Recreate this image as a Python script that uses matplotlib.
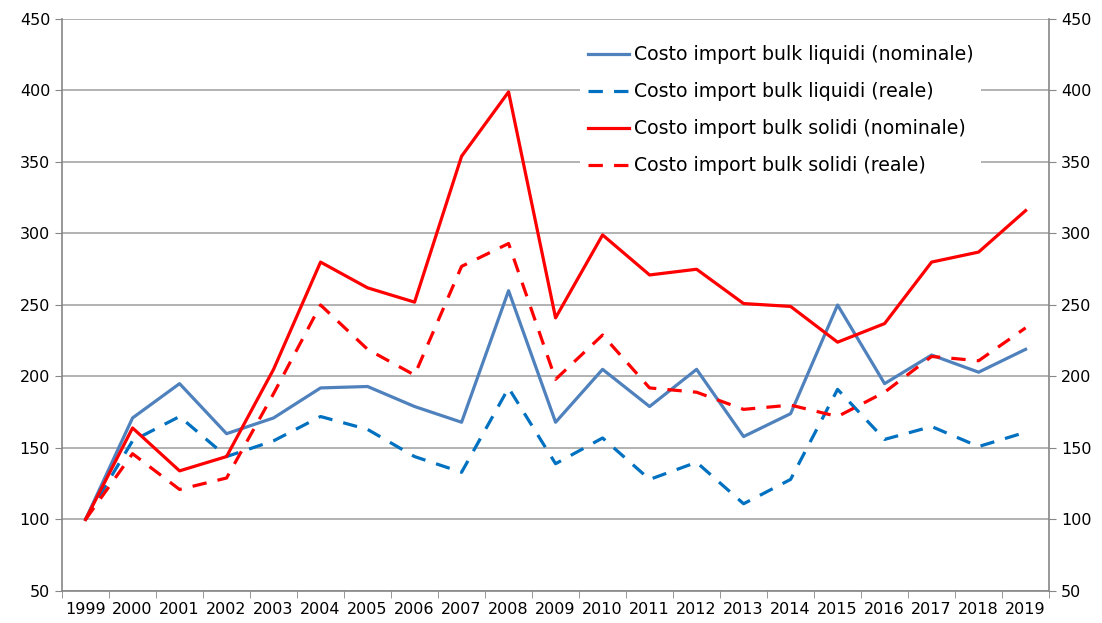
import numpy as np
import matplotlib
matplotlib.use("Agg")
from matplotlib import pyplot as plt

# Data
years = [str(y) for y in range(1999, 2020)]
liquidi_nom = [100, 171, 195, 160, 171, 192, 193, 179, 168, 260, 168,
               205, 179, 205, 158, 174, 250, 195, 215, 203, 219]
liquidi_real = [100, 155, 172, 144, 155, 172, 163, 144, 133, 192, 139,
                157, 128, 140, 111, 128, 191, 156, 165, 151, 161]
solidi_nom = [100, 164, 134, 144, 205, 280, 262, 252, 354, 399, 241,
              299, 271, 275, 251, 249, 224, 237, 280, 287, 316]
solidi_real = [100, 146, 121, 129, 188, 250, 219, 201, 277, 293, 198,
               229, 192, 189, 177, 180, 172, 189, 214, 211, 234]
labels = ['Costo import bulk liquidi (nominale)',
          'Costo import bulk liquidi (reale)',
          'Costo import bulk solidi (nominale)',
          'Costo import bulk solidi (reale)']

plt.rcParams['font.family'] = ['DejaVu Sans']
fig = plt.figure(figsize=(11.02, 6.23), dpi=100)
ax = fig.add_axes([0.0563, 0.0514, 0.8957, 0.9181])

x = np.arange(len(years))
dash = (0, (4.5, 3.5))
lw = 2.3
ax.plot(x, liquidi_nom, color='#4F81BD', lw=lw, label=labels[0])
ax.plot(x, liquidi_real, color='#0070C0', lw=lw, linestyle=dash, label=labels[1])
ax.plot(x, solidi_nom, color='#FF0000', lw=lw, label=labels[2])
ax.plot(x, solidi_real, color='#FF0000', lw=lw, linestyle=dash, label=labels[3])

ax.set_xlim(-0.5, len(years) - 0.5)
ax.set_ylim(50, 450)
ax.set_yticks(range(50, 451, 50))
ax.set_xticks(x)
ax.set_xticklabels(years)
ax.set_xticks(np.arange(-0.5, len(years), 1), minor=True)
ax.tick_params(axis='x', which='major', length=0, labelsize=11.5, pad=8)
ax.tick_params(axis='x', which='minor', length=5, color='#868686')
ax.tick_params(axis='y', length=5, color='#868686', labelsize=11.5)

ax.grid(axis='y', color='#A6A6A6', lw=1.2)
ax.set_axisbelow(True)
for s in ['left', 'bottom', 'right']:
    ax.spines[s].set_color('#868686')
    ax.spines[s].set_linewidth(1.2)
ax.spines['top'].set_visible(False)

ax2 = ax.twinx()
ax2.set_ylim(50, 450)
ax2.set_yticks(range(50, 451, 50))
ax2.tick_params(axis='y', length=5, color='#868686', labelsize=11.5)
for s in ['left', 'bottom', 'right', 'top']:
    ax2.spines[s].set_visible(False)

leg = ax.legend(loc='upper left', bbox_to_anchor=(0.525, 0.967), frameon=True,
                fontsize=13.6, handlelength=2.2, handletextpad=0.25,
                labelspacing=0.95, borderpad=0.4, borderaxespad=0)
leg.get_frame().set_edgecolor('none')
leg.get_frame().set_facecolor('white')
leg.get_frame().set_alpha(1)

plt.savefig('out.png', dpi=100)
